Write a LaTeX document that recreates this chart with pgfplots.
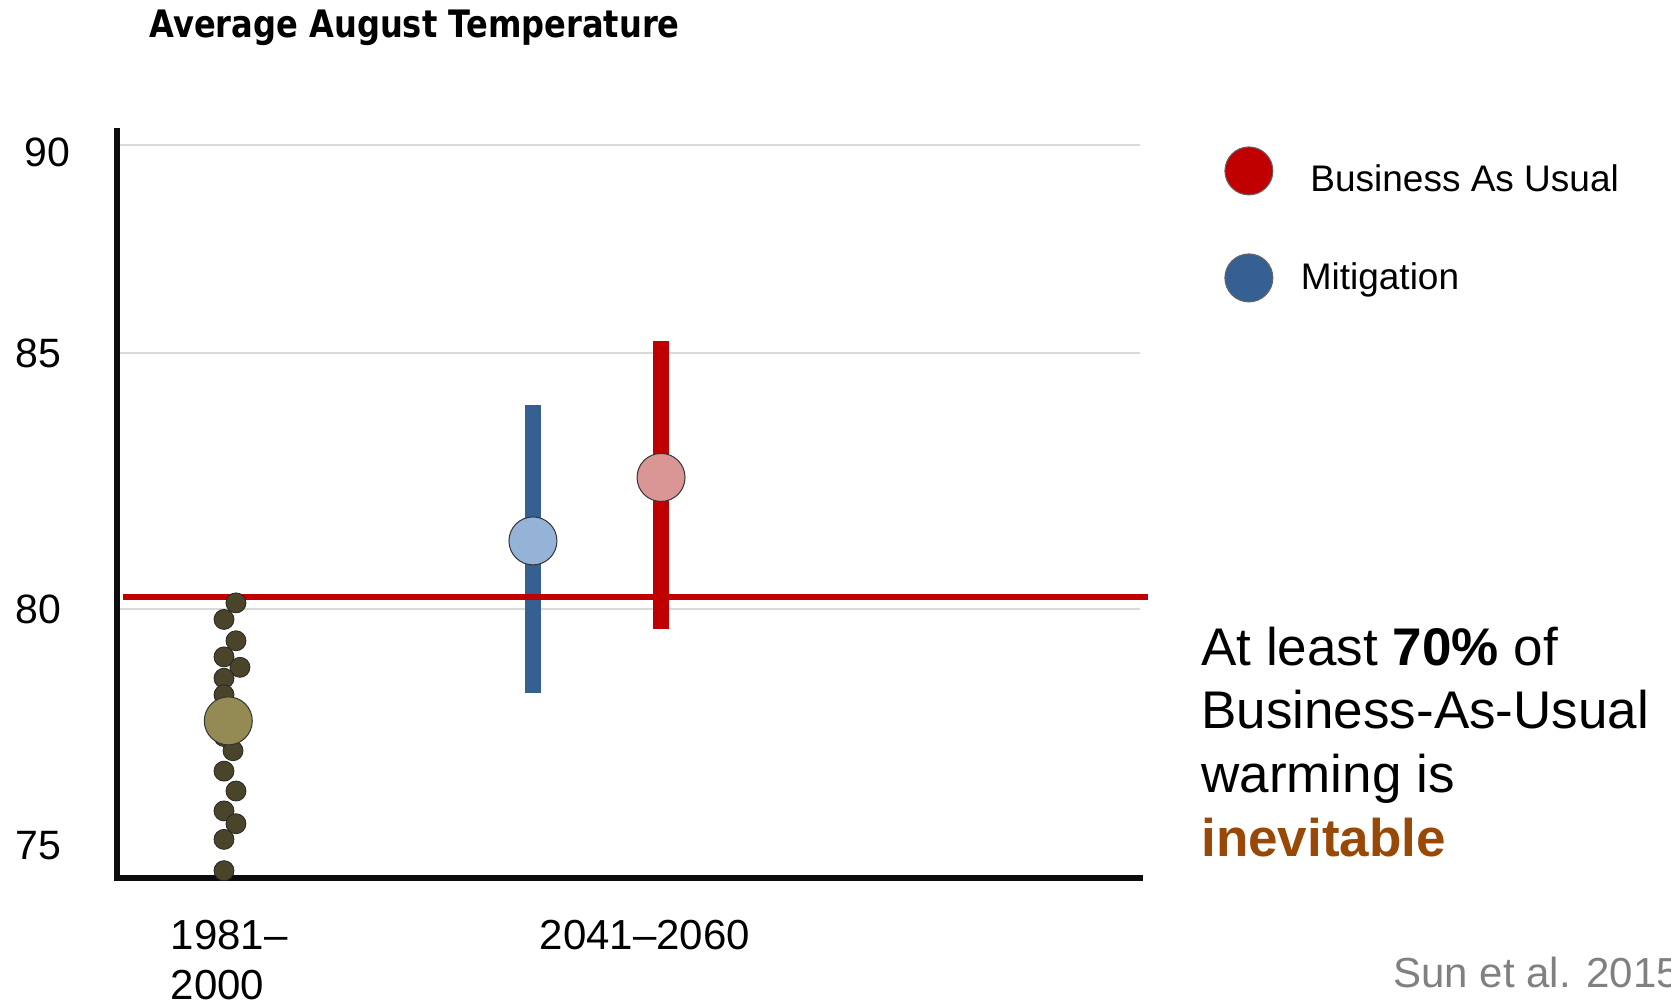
\documentclass[border=0pt]{standalone}
\usepackage{fontspec}
\setmainfont{Liberation Sans}
\newfontfamily\titlefont[FakeStretch=0.85]{DejaVu Sans}
\usepackage{pgfplots}
\pgfplotsset{compat=1.18}
\definecolor{baured}{HTML}{C00000}
\definecolor{mitblue}{HTML}{376092}
\definecolor{mitlight}{HTML}{95B3D7}
\definecolor{baulight}{HTML}{D99694}
\definecolor{olivebig}{HTML}{948A54}
\definecolor{dotdark}{HTML}{4A452A}
\definecolor{inev}{HTML}{984807}
\definecolor{gridgray}{HTML}{D9D9D9}
\begin{document}
\begin{tikzpicture}
\useasboundingbox (0,0) rectangle (835.5pt,501.5pt);
\begin{axis}[
  at={(58.5pt,62.5pt)}, anchor=south west,
  scale only axis, width=511.5pt, height=373.5pt,
  % the reference's temperature scale is drawn with unequal spacing between its gridlines
  y coord trafo/.code={\pgfmathparse{47.4*min(#1-80,0)+51.2*min(max(#1-80,0),5)+41.6*max(#1-85,0)}},
  y coord inv trafo/.code={\pgfmathparse{80+min(#1,0)/47.4+min(max(#1,0),256)/51.2+max(#1-256,0)/41.6}},
  xmin=0, xmax=10, ymin=74.325, ymax=90.337,
  clip=false,
  axis lines=left,
  axis line style={-, line width=2.8pt, color=black!95, line cap=rect},
  major tick length=0pt,
  /pgf/number format/assume math mode=true,
  ytick={80,85,90},
  yticklabels={80,85,{\raisebox{-3.5pt}[\height][\depth]{90}\kern-4.5pt}},
  extra y ticks={75},
  extra y tick labels={75},
  extra y tick style={grid=none},
  ymajorgrids,
  grid style={line width=0.6pt, color=gridgray},
  yticklabel style={font=\fontsize{20.5}{24}\selectfont, inner sep=0pt, anchor=east, xshift=-27.5pt},
  xtick={1.097,5.161},
  xticklabels={{1981–\\2000},{2041–2060}},
  xticklabel style={font=\fontsize{21}{25}\selectfont, align=left, anchor=north, inner sep=0pt, yshift=-20.75pt},
  legend style={at={(axis description cs:1.0821,0.9799)}, anchor=north west, draw=none, fill=none, inner sep=0pt, row sep=29pt, column sep=16.5pt, font=\fontsize{18.5}{22}\selectfont},
  legend cell align=left,
]
% uncertainty ranges
\addplot[line width=8.3pt, color=baured, forget plot] coordinates {(5.318,79.57) (5.318,85.30)};
\addplot[line width=8.3pt, color=mitblue, forget plot] coordinates {(4.066,78.23) (4.066,83.98)};
% baseline mean line
\addplot[line width=3pt, color=baured, forget plot] coordinates {(0.054,80.24) (10.08,80.24)};
% 1981-2000 yearly values
\addplot[only marks, mark=*, mark size=5pt, mark options={fill=dotdark, draw=black!85, line width=0.4pt}, forget plot] table {
x y
1.163 80.12
1.046 79.78
1.163 79.33
1.046 78.99
1.202 78.77
1.046 78.54
1.046 78.19
1.088 77.89
1.100 77.60
1.046 77.31
1.134 77.01
1.046 76.58
1.163 76.16
1.046 75.74
1.163 75.47
1.046 75.14
1.046 74.48
};
% means
\addplot[only marks, mark=*, mark size=12pt, mark options={fill=olivebig, draw=black!80, line width=0.5pt}, forget plot] coordinates {(1.088,77.64)};
\addplot[only marks, mark=*, mark size=12pt, mark options={fill=mitlight, draw=black!80, line width=0.5pt}, forget plot] coordinates {(4.066,81.33)};
\addplot[only marks, mark=*, mark size=12pt, mark options={fill=baulight, draw=black!80, line width=0.5pt}, forget plot] coordinates {(5.318,82.57)};
% legend
\addlegendimage{legend image code/.code={\filldraw[fill=baured, draw=black!60, line width=0.5pt] (0pt,0pt) circle (12pt);}}
\addlegendentry{\raisebox{-4.3pt}[\height][\depth]{Business As Usual}}
\addlegendimage{legend image code/.code={\filldraw[fill=mitblue, draw=black!60, line width=0.5pt] (0pt,0pt) circle (12pt);}}
\addlegendentry{\hspace{-4.8pt}Mitigation}
\end{axis}
\node[anchor=base west, inner sep=0pt, font=\titlefont\bfseries\fontsize{18.9}{22}\selectfont] at (74.5pt,482.5pt) {Average August Temperature};
\node[anchor=base west, inner sep=0pt, font=\fontsize{26.5}{32}\selectfont] at (600.5pt,169pt) {At least \textbf{70\%} of};
\node[anchor=base west, inner sep=0pt, font=\fontsize{26.5}{32}\selectfont] at (600.5pt,137.3pt) {Business-As-Usual};
\node[anchor=base west, inner sep=0pt, font=\fontsize{26.5}{32}\selectfont] at (600.5pt,105.2pt) {warming is};
\node[anchor=base west, inner sep=0pt, font=\fontsize{26.5}{32}\selectfont\bfseries, text=inev] at (600.5pt,73.2pt) {inevitable};
\node[anchor=base west, inner sep=0pt, font=\fontsize{21}{25}\selectfont, text=black!50] at (696.5pt,8pt) {Sun et al. 2015};
\end{tikzpicture}
\end{document}
